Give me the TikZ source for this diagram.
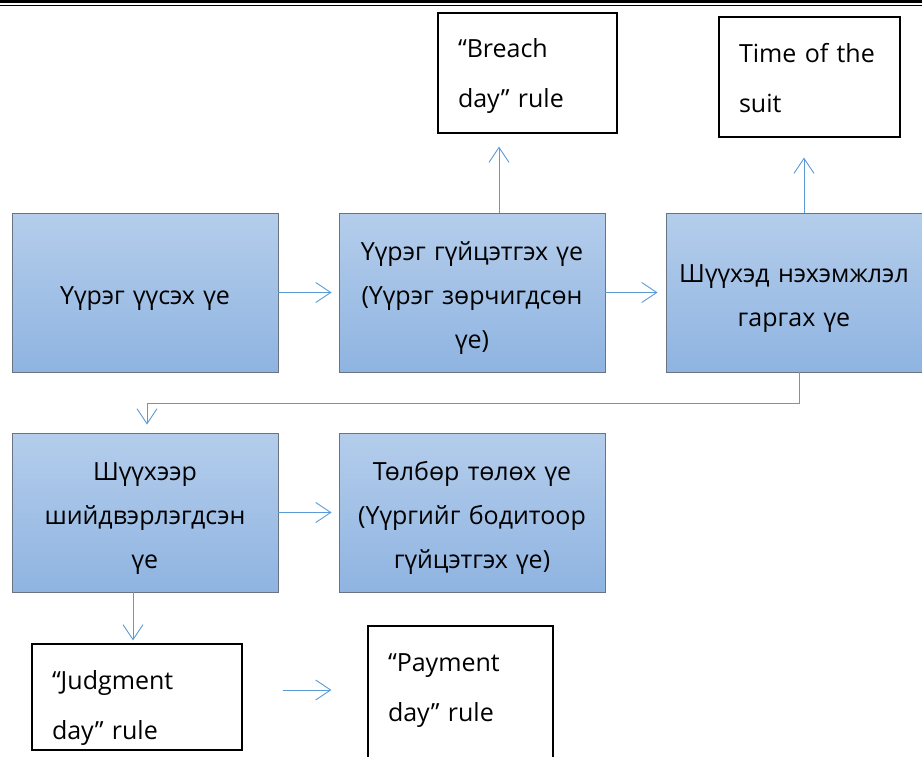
\documentclass[tikz,border=0pt]{standalone}
\usepackage{fontspec}
\setmainfont{Open Sans}[WordSpace=1.3]
\usetikzlibrary{arrows.meta}
\definecolor{boxtop}{RGB}{180,205,235}
\definecolor{boxbot}{RGB}{143,180,225}
\definecolor{boxedge}{RGB}{105,115,130}
\definecolor{flowblue}{RGB}{91,155,213}
\tikzset{
  stagebox/.style={draw=boxedge, line width=0.9pt, top color=boxtop, bottom color=boxbot,
    minimum width=266pt, minimum height=159pt, inner sep=0pt, text width=250pt, align=center,
    text height=30pt, font=\fontsize{25}{44}\selectfont},
  oneline/.style={text depth=6pt},
  twolines/.style={text depth=50pt},
  threelines/.style={text depth=94pt},
  rulebox/.style={draw=black, line width=1.2pt, fill=white, inner xsep=20pt, inner ysep=0pt,
    align=left, text height=20pt, font=\fontsize{25}{50}\selectfont},
  flow/.style={draw=flowblue, line width=0.9pt, -{Straight Barb[length=15pt,width=20pt,line width=0.9pt]}}
}
\begin{document}
\begin{tikzpicture}[x=1pt,y=-1pt]
\useasboundingbox (0,0) rectangle (922,756);
\draw[line width=3.4pt] (0,1.7) -- (922,1.7);
\draw[line width=1.5pt] (0,5.3) -- (922,5.3);
\node[stagebox, oneline] (arise) at (145,292.5) {Үүрэг үүсэх үе};
\node[stagebox, threelines] (breach) at (472,292.5) {Үүрэг гүйцэтгэх үе\\(Үүрэг зөрчигдсөн\\үе)};
\node[stagebox, twolines, minimum width=256pt, text width=240pt] (suit) at (794,292.5) {Шүүхэд нэхэмжлэл\\гаргах үе};
\node[stagebox, threelines] (judge) at (145,512.5) {Шүүхээр\\шийдвэрлэгдсэн\\үе};
\node[stagebox, threelines] (pay) at (472,512.5) {Төлбөр төлөх үе\\(Үүргийг бодитоор\\гүйцэтгэх үе)};
\node[rulebox, minimum width=179pt, minimum height=120pt, text width=139pt, text depth=52pt] (breachrule) at (527.5,73) {“Breach\\day” rule};
\node[rulebox, minimum width=181pt, minimum height=120pt, text width=141pt, text depth=50pt] (suitrule) at (809.5,77) {Time of the\\suit};
\node[rulebox, minimum width=210pt, minimum height=106pt, text width=170pt, text depth=36pt] (judgerule) at (137,697) {“Judgment\\day” rule};
\node[rulebox, minimum width=185pt, minimum height=140pt, text width=145pt, text depth=70pt] (payrule) at (460.5,696) {“Payment\\day” rule};
\draw[flow, shorten >=7pt] (arise) -- (breach);
\draw[flow, shorten >=8pt] (breach) -- (suit);
\draw[flow, shorten >=13pt] ([xshift=27pt]breach.north) -- ([xshift=27pt]breach.north |- breachrule.south);
\draw[flow, shorten >=20pt] ([xshift=10pt]suit.north) -- ([xshift=10pt]suit.north |- suitrule.south);
\draw[flow, shorten >=8pt] ([xshift=5pt]suit.south) -- ++(0,31) -| ([xshift=2pt]judge.north);
\draw[flow, shorten >=7pt] (judge) -- (pay);
\draw[flow, shorten >=3pt] ([xshift=-12pt]judge.south) -- ([xshift=-12pt]judge.south |- judgerule.north);
\draw[flow, shorten <=40pt, shorten >=36pt] ([yshift=7pt]judgerule.east) -- ([yshift=7pt]judgerule.east -| payrule.west);
\end{tikzpicture}
\end{document}
